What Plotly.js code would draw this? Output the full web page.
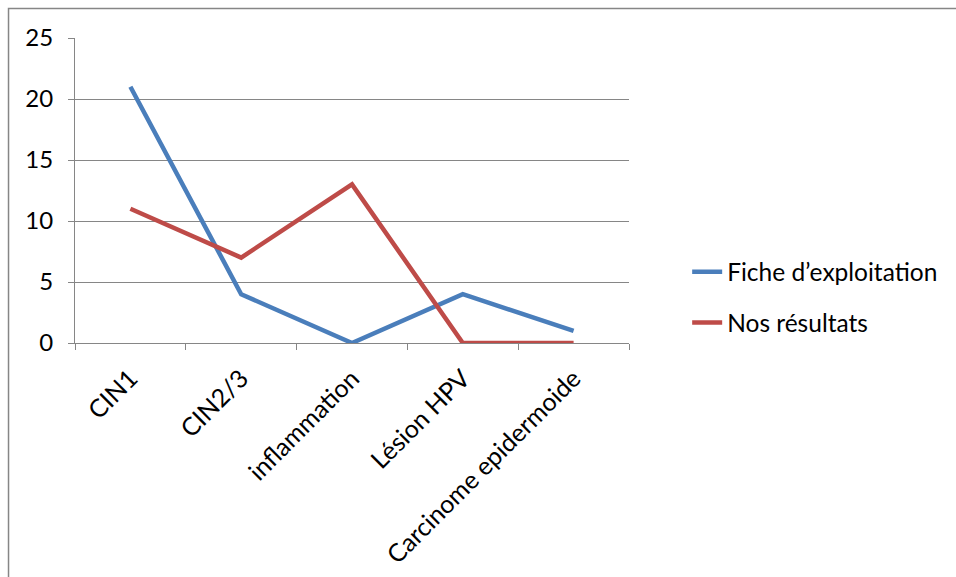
<!DOCTYPE html>
<html>
<head>
<meta charset="utf-8">
<script src="https://cdn.plot.ly/plotly-3.0.1.min.js"></script>
<style>html,body{margin:0;padding:0;background:#fff;}#chart{width:956px;height:577px;}</style>
</head>
<body>
<div id="chart"></div>
<script>
const categories = ["CIN1", "CIN2/3", "inflammation", "Lésion HPV", "Carcinome epidermoide"];
const ficheValues = [21, 4, 0, 4, 1];
const nosValues = [11, 7, 13, 0, 0];
const seriesNames = ["Fiche d\u2019exploitation", "Nos résultats"];
const yTicks = [0, 5, 10, 15, 20, 25];

const font = "Lato, 'Open Sans', sans-serif";
const traces = [
  {x: categories, y: ficheValues, name: seriesNames[0], type: "scatter", mode: "lines",
   line: {color: "#4A7EBB", width: 4.5}, legendgroup: "a"},
  {x: categories, y: nosValues, name: seriesNames[1], type: "scatter", mode: "lines",
   line: {color: "#BE4B48", width: 4.5}, legendgroup: "b"}
];

const layout = {
  width: 956, height: 577,
  margin: {l: 75, r: 327, t: 38, b: 234},
  paper_bgcolor: "#fff", plot_bgcolor: "#fff",
  font: {family: font, size: 24, color: "#000"},
  showlegend: true,
  legend: {x: 1.105, xanchor: "left", y: 0.15, yanchor: "middle",
           font: {family: font, size: 24.5, color: "#000"},
           traceorder: "grouped", tracegroupgap: 16, bgcolor: "rgba(0,0,0,0)"},
  xaxis: {type: "category", tickangle: -45, ticks: "outside", ticklen: 6, tickcolor: "#868686",
          tickson: "boundaries", showline: true, linecolor: "#868686", linewidth: 1,
          showgrid: false, zeroline: false, ticklabelstandoff: 10,
          tickfont: {family: font, size: 25, color: "#000"}, range: [-0.5, 4.5]},
  yaxis: {range: [0, 25], tickvals: yTicks, ticktext: yTicks.map(String), ticks: "outside", ticklen: 6, tickcolor: "#868686",
          showline: true, linecolor: "#868686", gridcolor: "#868686", gridwidth: 1,
          zeroline: false, ticklabelstandoff: 10,
          tickfont: {family: font, size: 24, color: "#000"}},
  shapes: [
    {type: "path", xref: "paper", yref: "paper",
     path: "M -0.12,-0.8 L -0.12,1.0967 L 1.7,1.0967",
     line: {color: "#868686", width: 1.5}}
  ]
};

Plotly.newPlot("chart", traces, layout, {displayModeBar: false, staticPlot: true});
</script>
</body>
</html>
